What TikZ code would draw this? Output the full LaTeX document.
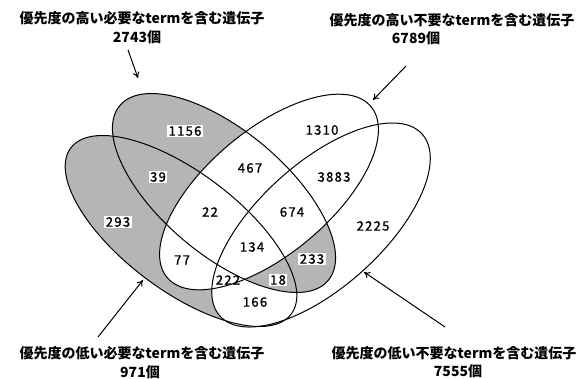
\documentclass[tikz,border=0pt]{standalone}
\usepackage{fontspec}
\setmainfont{Noto Sans CJK JP}
\newfontfamily\numfont[LetterSpace=10,FakeBold=1.2]{Noto Sans CJK JP}
\usetikzlibrary{arrows.meta}
\definecolor{greyfill}{RGB}{180,181,183}
\tikzset{
  e1/.style={shift={(224,193)},rotate=-40},
  e2/.style={shift={(181,231)},rotate=-37},
  e3/.style={shift={(269,192)},rotate=40},
  e4/.style={shift={(321,225)},rotate=42},
  ring/.style={draw=black,line width=1pt},
  title/.style={font=\fontsize{14}{16}\selectfont\bfseries, inner sep=0pt},
  num/.style={font=\numfont\fontsize{13}{15}\selectfont, inner sep=1.5pt},
  boxed/.style={num, fill=white},
  ptr/.style={line width=1pt,-{To[length=6pt,width=7pt]}}
}
\begin{document}
\begin{tikzpicture}[x=1pt,y=-1pt]
\useasboundingbox (0,0) rectangle (588,378);
% shading
\fill[greyfill,e2] (0,0) ellipse [x radius=138pt,y radius=59pt];
\fill[white,e4] (0,0) ellipse [x radius=136pt,y radius=62pt];
\fill[greyfill,e1] (0,0) ellipse [x radius=136pt,y radius=62pt];
\fill[white,e3] (0,0) ellipse [x radius=133pt,y radius=62pt];
% outlines
\draw[ring,e1] (0,0) ellipse [x radius=136pt,y radius=62pt];
\draw[ring,e2] (0,0) ellipse [x radius=138pt,y radius=59pt];
\draw[ring,e3] (0,0) ellipse [x radius=133pt,y radius=62pt];
\draw[ring,e4] (0,0) ellipse [x radius=136pt,y radius=62pt];
% numbers
\node[boxed] (n1156) at (185,131) {1156};
\node[boxed] (n39) at (158,177) {39};
\node[boxed] (n293) at (118,222) {293};
\node[num] (n467) at (250,168) {467};
\node[num] (n1310) at (322,130) {1310};
\node[num] (n3883) at (334,177) {3883};
\node[num] (n22) at (210,212) {22};
\node[num] (n674) at (292,212) {674};
\node[num] (n2225) at (373,226) {2225};
\node[num] (n77) at (182,260) {77};
\node[num] (n134) at (252,247) {134};
\node[boxed] (n233) at (312,259) {233};
\node[num] (n222) at (228,280) {222};
\node[boxed] (n18) at (278,280) {18};
\node[num] (n166) at (255,302) {166};
% titles
\node[title] (t1) at (142,18) {優先度の高い必要なtermを含む遺伝子};
\node[title] (c1) at (137,37) {2743個};
\node[title] (t2) at (452,20) {優先度の高い不要なtermを含む遺伝子};
\node[title] (c2) at (416,38) {6789個};
\node[title] (t3) at (142,353) {優先度の低い必要なtermを含む遺伝子};
\node[title] (c3) at (140,372) {971個};
\node[title] (t4) at (454,353) {優先度の低い不要なtermを含む遺伝子};
\node[title] (c4) at (458,371) {7555個};
% arrows
\coordinate (a1s) at (128,50); \coordinate (a1t) at (138,78);
\coordinate (a2s) at (406,66); \coordinate (a2t) at (373,100);
\coordinate (a3s) at (98,337); \coordinate (a3t) at (143,280);
\coordinate (a4s) at (445,327); \coordinate (a4t) at (364,272);
\draw[ptr] (a1s) -- (a1t);
\draw[ptr] (a2s) -- (a2t);
\draw[ptr] (a3s) -- (a3t);
\draw[ptr] (a4s) -- (a4t);
\end{tikzpicture}
\end{document}
